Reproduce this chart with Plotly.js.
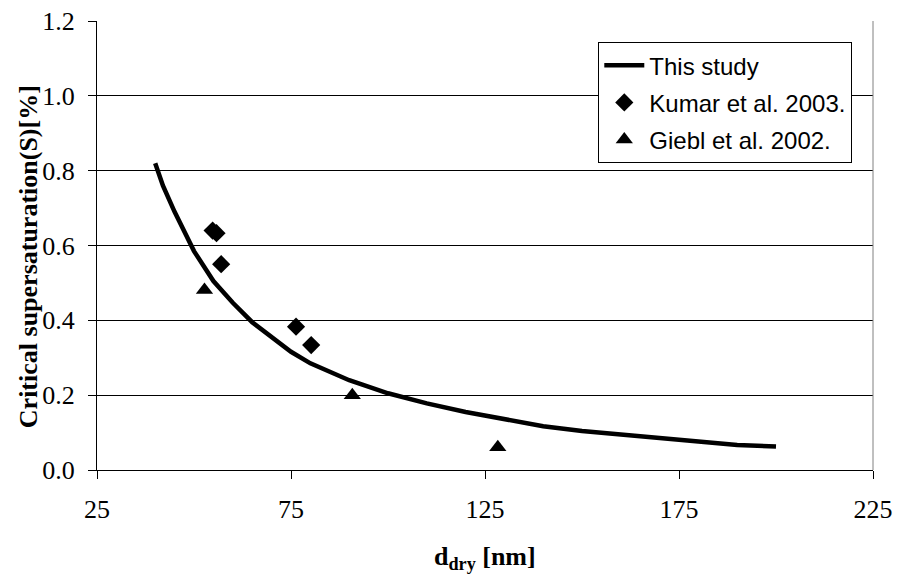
<!DOCTYPE html>
<html>
<head>
<meta charset="utf-8">
<script src="https://cdn.plot.ly/plotly-3.0.1.min.js"></script>
<style>html,body{margin:0;padding:0;background:#fff;}#chart{width:898px;height:580px;}</style>
</head>
<body>
<div id="chart"></div>
<script>
// This study (model curve)
const studyX = [40, 42, 45, 50, 55, 60, 65, 70, 75, 80, 90, 100, 110, 120, 130, 140, 150, 160, 170, 180, 190, 200];
const studyY = [0.82, 0.76, 0.69, 0.585, 0.505, 0.447, 0.395, 0.356, 0.316, 0.285, 0.240, 0.205, 0.178, 0.155, 0.136, 0.117, 0.104, 0.095, 0.086, 0.076, 0.067, 0.063];
// Kumar et al. 2003
const kumarX = [54.8, 55.8, 57.0, 76.3, 80.2];
const kumarY = [0.640, 0.633, 0.550, 0.383, 0.334];
// Giebl et al. 2002
const gieblX = [52.7, 90.8, 128.3];
const gieblY = [0.481, 0.200, 0.061];

const xTicks = [25, 75, 125, 175, 225];
const yTicks = [0.0, 0.2, 0.4, 0.6, 0.8, 1.0, 1.2];

const serif = 'Liberation Serif, Times New Roman, serif';
const sans = 'Liberation Sans, Arial, sans-serif';

const traces = [
  {x: studyX, y: studyY, type: 'scatter', mode: 'lines', name: 'This study',
   line: {color: '#000', width: 4.5}, legendgroup: 'a'},
  {x: kumarX, y: kumarY, type: 'scatter', mode: 'markers', name: 'Kumar et al. 2003.',
   marker: {symbol: 'diamond', size: 14, color: '#000'}, legendgroup: 'b'},
  {x: gieblX, y: gieblY, type: 'scatter', mode: 'markers', name: 'Giebl et al. 2002.',
   marker: {symbol: 'triangle-up', size: 15, color: '#000'}, legendgroup: 'c'}
];

const layout = {
  width: 898, height: 580,
  margin: {l: 97, r: 25, t: 21, b: 110},
  paper_bgcolor: '#fff', plot_bgcolor: '#fff',
  showlegend: true,
  font: {family: serif, color: '#000'},
  xaxis: {
    range: [25, 225], tickvals: xTicks, ticktext: xTicks.map(String),
    showgrid: false, zeroline: false,
    showline: true, linecolor: '#000', linewidth: 1,
    ticks: 'outside', ticklen: 8, tickcolor: '#000', tickwidth: 1,
    ticklabelstandoff: 8,
    tickfont: {size: 26, family: serif, color: '#000'}
  },
  yaxis: {
    range: [0, 1.2], tickvals: yTicks, ticktext: yTicks.map(v => v.toFixed(1)),
    showgrid: true, gridcolor: '#000', gridwidth: 1, zeroline: false,
    showline: true, linecolor: '#000', linewidth: 1,
    ticks: 'outside', ticklen: 8, tickcolor: '#000', tickwidth: 1,
    ticklabelstandoff: 8,
    tickfont: {size: 26, family: serif, color: '#000'}
  },
  legend: {
    x: 0.646, y: 0.953, xanchor: 'left', yanchor: 'top',
    bgcolor: '#fff', bordercolor: '#000', borderwidth: 1,
    font: {size: 24, family: sans, color: '#000'},
    traceorder: 'grouped', tracegroupgap: 3, itemwidth: 40
  },
  annotations: [
    {text: '<b>Critical supersaturation(S)[%]</b>', xref: 'paper', yref: 'paper',
     x: (28 - 97) / 776, y: 0.474, xanchor: 'center', yanchor: 'middle',
     textangle: -90, showarrow: false, font: {size: 26, family: serif, color: '#000'}},
    {text: '<b>d<sub>dry</sub> [nm]</b>', xref: 'paper', yref: 'paper',
     x: 0.5, y: -0.196, xanchor: 'center', yanchor: 'middle',
     showarrow: false, font: {size: 26, family: serif, color: '#000'}}
  ],
  shapes: [
    {type: 'line', xref: 'paper', yref: 'paper', x0: 1, x1: 1, y0: 0, y1: 1,
     line: {color: '#808080', width: 1}}
  ]
};

Plotly.newPlot('chart', traces, layout, {staticPlot: true, displayModeBar: false});
</script>
</body>
</html>
